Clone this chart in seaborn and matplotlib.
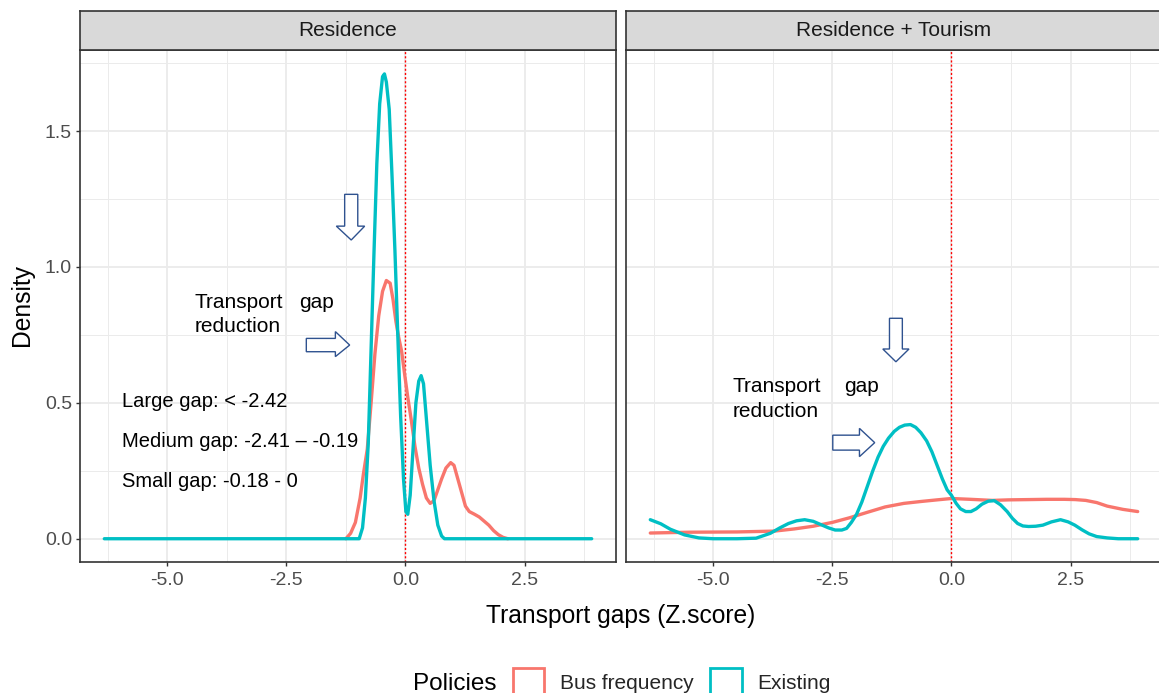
import numpy as np
import pandas as pd
import seaborn as sns
import matplotlib
matplotlib.use("Agg")
import matplotlib.pyplot as plt
from matplotlib.patches import Patch, Polygon

# ---------------- data: density curves read per facet ----------------
facets = ["Residence", "Residence + Tourism"]
policies = ["Bus frequency", "Existing"]
policy_colors = ["#F8766D", "#00BFC4"]

res_existing_x = [-6.32, -0.97, -0.90, -0.84, -0.78, -0.72, -0.66, -0.60, -0.54, -0.48,
                  -0.44, -0.40, -0.34, -0.28, -0.22, -0.16, -0.10, -0.04, 0.01, 0.05,
                  0.10, 0.16, 0.22, 0.28, 0.33, 0.38, 0.45, 0.52, 0.60, 0.68, 0.76, 0.82, 3.91]
res_existing_y = [0.0, 0.0, 0.04, 0.15, 0.35, 0.70, 1.05, 1.38, 1.60, 1.70,
                  1.71, 1.68, 1.58, 1.33, 1.06, 0.75, 0.45, 0.22, 0.10, 0.09,
                  0.16, 0.33, 0.50, 0.58, 0.60, 0.57, 0.42, 0.27, 0.14, 0.05, 0.01, 0.0, 0.0]

res_bus_x = [-1.25, -1.15, -1.05, -0.95, -0.88, -0.80, -0.72, -0.64, -0.56, -0.48,
             -0.40, -0.32, -0.26, -0.20, -0.14, -0.08, -0.02, 0.05, 0.12, 0.20,
             0.28, 0.36, 0.44, 0.52, 0.60, 0.68, 0.76, 0.85, 0.95, 1.02,
             1.10, 1.18, 1.26, 1.34, 1.45, 1.55, 1.65, 1.75, 1.85, 1.95, 2.05, 2.15]
res_bus_y = [0.0, 0.02, 0.06, 0.15, 0.24, 0.33, 0.50, 0.68, 0.82, 0.91,
             0.95, 0.94, 0.88, 0.80, 0.74, 0.69, 0.61, 0.52, 0.44, 0.34,
             0.26, 0.20, 0.15, 0.13, 0.14, 0.18, 0.22, 0.26, 0.28, 0.27,
             0.22, 0.17, 0.12, 0.10, 0.09, 0.08, 0.065, 0.05, 0.03, 0.015, 0.005, 0.0]

tour_existing_x = [-6.32, -6.1, -5.9, -5.6, -5.3, -5.0, -4.5, -4.1, -3.8, -3.6,
                   -3.42, -3.25, -3.08, -2.9, -2.74, -2.58, -2.44, -2.3, -2.2, -2.1,
                   -1.99, -1.88, -1.77, -1.65, -1.54, -1.43, -1.32, -1.2, -1.09, -0.98,
                   -0.86, -0.75, -0.64, -0.52, -0.41, -0.30, -0.19, -0.09, 0.0, 0.1,
                   0.19, 0.3, 0.41, 0.52, 0.64, 0.77, 0.9, 1.03, 1.17, 1.28,
                   1.39, 1.5, 1.62, 1.77, 1.92, 2.1, 2.29, 2.45, 2.59, 2.74,
                   2.89, 3.05, 3.27, 3.5, 3.91]
tour_existing_y = [0.07, 0.055, 0.035, 0.014, 0.003, 0.0, 0.0, 0.002, 0.02, 0.04,
                   0.056, 0.066, 0.07, 0.064, 0.052, 0.040, 0.032, 0.032, 0.038, 0.06,
                   0.09, 0.135, 0.19, 0.25, 0.30, 0.34, 0.37, 0.395, 0.41, 0.418,
                   0.42, 0.41, 0.39, 0.36, 0.32, 0.27, 0.22, 0.18, 0.16, 0.13,
                   0.11, 0.10, 0.10, 0.11, 0.127, 0.138, 0.14, 0.125, 0.10, 0.075,
                   0.056, 0.047, 0.045, 0.046, 0.05, 0.062, 0.07, 0.062, 0.05, 0.033,
                   0.018, 0.008, 0.003, 0.0, 0.0]

tour_bus_x = [-6.32, -5.5, -4.5, -3.72, -3.3, -2.9, -2.5, -2.14, -1.75, -1.39,
              -1.0, -0.64, -0.3, 0.0, 0.4, 0.86, 1.2, 1.62, 2.0, 2.37,
              2.6, 2.82, 3.05, 3.27, 3.6, 3.91]
tour_bus_y = [0.021, 0.024, 0.025, 0.028, 0.036, 0.046, 0.06, 0.077, 0.098, 0.117,
              0.13, 0.137, 0.143, 0.148, 0.145, 0.141, 0.143, 0.144, 0.145, 0.145,
              0.144, 0.141, 0.133, 0.12, 0.108, 0.10]

x_ticks = [-5.0, -2.5, 0.0, 2.5]
y_ticks = [0.0, 0.5, 1.0, 1.5]
range_notes = ["Large gap: < -2.42", "Medium gap: -2.41 \u2013 -0.19", "Small gap: -0.18 - 0"]


def frame(facet, policy, xs, ys):
    return pd.DataFrame({"facet": facet, "Policies": policy, "z": xs, "density": ys})


df = pd.concat([
    frame(facets[0], policies[0], res_bus_x, res_bus_y),
    frame(facets[0], policies[1], res_existing_x, res_existing_y),
    frame(facets[1], policies[0], tour_bus_x, tour_bus_y),
    frame(facets[1], policies[1], tour_existing_x, tour_existing_y),
], ignore_index=True)

# ---------------- styling ----------------
sns.set_theme(style="white")
plt.rcParams["font.family"] = ["Liberation Sans", "DejaVu Sans"]

W, H = 1159, 693
fig = plt.figure(figsize=(W / 100, H / 100), dpi=100)


def fx(px):
    return px / W


def fy(py):
    return 1 - py / H


panel_w = 536
panel_top, panel_bot = 50, 562
strip_top = 11
panel_lefts = [80, 626]

grey20 = "#333333"
grey30 = "#4D4D4D"
grid_col = "#EBEBEB"
arrow_col = "#2F528F"

palette = dict(zip(policies, policy_colors))
xlim = (-6.83, 4.42)
ylim = (-0.0856, 1.798)

axes = []
for i, (facet, left) in enumerate(zip(facets, panel_lefts)):
    ax = fig.add_axes([fx(left), fy(panel_bot), panel_w / W, (panel_bot - panel_top) / H])
    axes.append(ax)
    sub = df[df["facet"] == facet]
    sns.lineplot(data=sub, x="z", y="density", hue="Policies", hue_order=policies,
                 palette=palette, linewidth=2.4, sort=False, estimator=None,
                 legend=False, ax=ax, zorder=3)
    ax.set_xlim(*xlim)
    ax.set_ylim(*ylim)
    ax.set_xticks(x_ticks)
    ax.set_xticklabels([f"{v:.1f}" for v in x_ticks])
    ax.set_xticks([-6.25, -3.75, -1.25, 1.25, 3.75], minor=True)
    ax.set_yticks(y_ticks)
    ax.set_yticks([0.25, 0.75, 1.25, 1.75], minor=True)
    if i == 0:
        ax.set_yticklabels([f"{v:.1f}" for v in y_ticks])
    else:
        ax.set_yticklabels([])
    ax.grid(True, which="major", color=grid_col, linewidth=1.3, zorder=0)
    ax.grid(True, which="minor", color=grid_col, linewidth=0.7, zorder=0)
    ax.set_axisbelow(True)
    ax.tick_params(which="major", axis="both", direction="out", length=3.2, width=1.0,
                   color=grey20, labelsize=14, labelcolor=grey30)
    ax.tick_params(axis="x", pad=4, bottom=True)
    ax.tick_params(axis="y", pad=2.5, left=(i == 0))
    ax.tick_params(which="minor", length=0)
    for s in ax.spines.values():
        s.set_color(grey20)
        s.set_linewidth(1.2)
    ax.set_xlabel("")
    ax.set_ylabel("")
    ax.axvline(0, color="#FF0000", linewidth=1.0, linestyle=(0, (1.5, 1.5)), zorder=2)

    # facet strip
    sax = fig.add_axes([fx(left), fy(panel_top), panel_w / W, (panel_top - strip_top) / H])
    sax.set_facecolor("#D9D9D9")
    sax.set_xticks([])
    sax.set_yticks([])
    for s in sax.spines.values():
        s.set_color(grey20)
        s.set_linewidth(1.2)
    sax.text(0.5, 0.5, facet, ha="center", va="center", fontsize=15,
             color="#1A1A1A", transform=sax.transAxes)


def down_arrow(ax, xl, xr, top, base, hl, hr, tip_y):
    xc = (xl + xr) / 2
    pts = [(xl, top), (xr, top), (xr, base), (hr, base), (xc, tip_y), (hl, base), (xl, base)]
    ax.add_patch(Polygon(pts, closed=True, facecolor="white", edgecolor=arrow_col,
                         linewidth=1.0, zorder=4))


def right_arrow(ax, xl, xr, yt, yb, ht, hb, tip_x):
    yc = (yt + yb) / 2
    pts = [(xl, yt), (xr, yt), (xr, ht), (tip_x, yc), (xr, hb), (xr, yb), (xl, yb)]
    ax.add_patch(Polygon(pts, closed=True, facecolor="white", edgecolor=arrow_col,
                         linewidth=1.0, zorder=4))


# annotations on the Residence panel
a0 = axes[0]
down_arrow(a0, -1.275, -1.0, 1.267, 1.150, -1.45, -0.855, 1.099)
right_arrow(a0, -2.08, -1.47, 0.737, 0.688, 0.762, 0.670, -1.17)
a0.text(-4.43, 0.849, "Transport", fontsize=15, color="black", va="baseline", zorder=5)
a0.text(-2.23, 0.849, "gap", fontsize=15, color="black", va="baseline", zorder=5)
a0.text(-4.43, 0.760, "reduction", fontsize=15, color="black", va="baseline", zorder=5)
for note, yb in zip(range_notes, [0.483, 0.336, 0.191]):
    a0.text(-5.95, yb, note, fontsize=14.5, color="black", va="baseline", zorder=5)

# annotations on the Residence + Tourism panel
a1 = axes[1]
down_arrow(a1, -1.30, -1.03, 0.811, 0.698, -1.44, -0.89, 0.651)
right_arrow(a1, -2.49, -1.93, 0.381, 0.326, 0.406, 0.302, -1.61)
a1.text(-4.59, 0.539, "Transport", fontsize=15, color="black", va="baseline", zorder=5)
a1.text(-2.26, 0.539, "gap", fontsize=15, color="black", va="baseline", zorder=5)
a1.text(-4.59, 0.449, "reduction", fontsize=15, color="black", va="baseline", zorder=5)

# shared axis titles
fig.text(fx(621), fy(623), "Transport gaps (Z.score)", ha="center", va="baseline",
         fontsize=17.7, color="black")
fig.text(fx(22), fy(305), "Density", ha="center", va="center", rotation=90,
         fontsize=17.7, color="black")

# legend along the bottom
fig.text(fx(413), fy(690), "Policies", ha="left", va="baseline", fontsize=17.5, color="black")
handles = [Patch(facecolor="white", edgecolor=c, linewidth=2.0, label=p)
           for p, c in zip(policies, policy_colors)]
fig.legend(handles=handles, loc="center left", bbox_to_anchor=(fx(513), fy(682)),
           ncol=2, frameon=False, fontsize=15, borderpad=0, borderaxespad=0,
           handlelength=1.5, handleheight=1.75, handletextpad=0.75, columnspacing=0.8)

fig.savefig("out.png", dpi=100, facecolor="white")
